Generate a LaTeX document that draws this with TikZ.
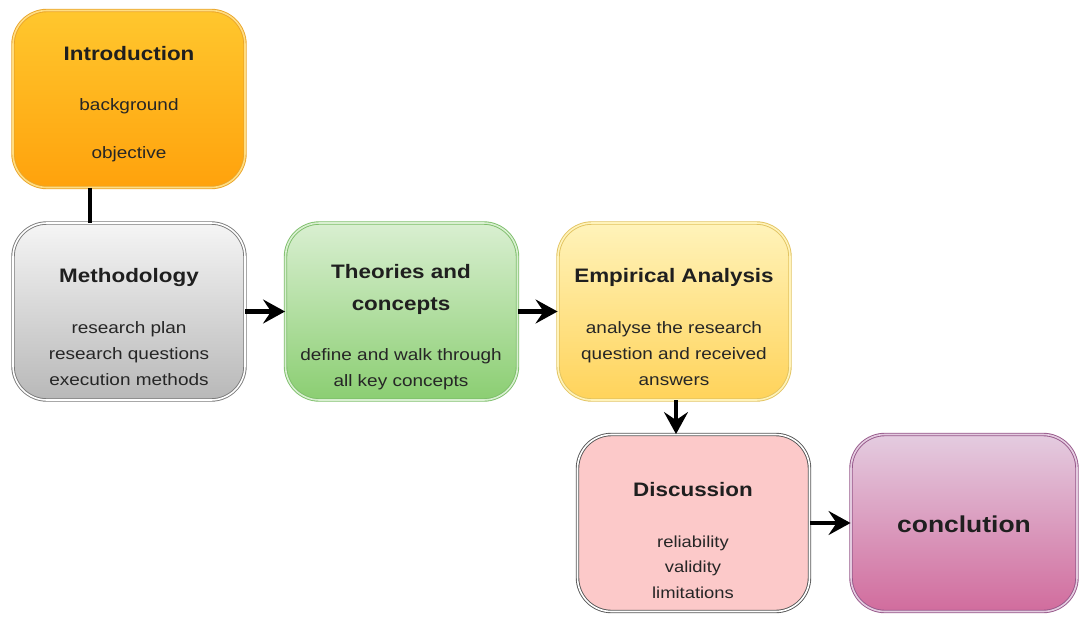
\documentclass[tikz,border=0pt]{standalone}
\usepackage{fontspec}
\setmainfont{Liberation Sans}
\newfontfamily\boxfont{Liberation Sans}[FakeStretch=1.15]
\usetikzlibrary{arrows.meta}
\definecolor{introTop}{HTML}{FFC72E}
\definecolor{introBot}{HTML}{FFA20C}
\definecolor{introLine}{HTML}{EAA52A}
\definecolor{methTop}{HTML}{F5F5F5}
\definecolor{methBot}{HTML}{B8B8B8}
\definecolor{methLine}{HTML}{7A7A7A}
\definecolor{theoTop}{HTML}{D9EFD1}
\definecolor{theoBot}{HTML}{8BCE72}
\definecolor{theoLine}{HTML}{7DBE6A}
\definecolor{empTop}{HTML}{FFF3BA}
\definecolor{empBot}{HTML}{FFD35A}
\definecolor{empLine}{HTML}{E2C360}
\definecolor{discFill}{HTML}{FCC9C9}
\definecolor{discLine}{HTML}{555555}
\definecolor{concTop}{HTML}{E4CCE0}
\definecolor{concBot}{HTML}{D16C9D}
\definecolor{concLine}{HTML}{96588A}
\begin{document}
\begin{tikzpicture}[x=1pt,y=-1pt,
  box/.style={rectangle, rounded corners=34pt, minimum width=232pt, minimum height=177pt,
    inner sep=0pt, line width=0.9pt, double distance=1.6pt},
  ttl/.style={font=\boxfont\fontsize{19.5}{22}\selectfont\bfseries, text=black!88, align=center, inner sep=0pt},
  sub/.style={font=\boxfont\fontsize{16.5}{26}\selectfont, text=black!85, align=center, inner sep=0pt},
  conn/.style={line width=4.5pt, black},
  arr/.style={conn, -{Stealth[length=22pt,width=24pt,inset=8pt]}}
]
\useasboundingbox (0,0) rectangle (1079,616);

% boxes
\node[box, top color=introTop, bottom color=introBot, draw=introLine, double=introTop!60!white] (intro) at (129,99) {};
\node[box, top color=methTop, bottom color=methBot, draw=methLine, double=white] (meth) at (129,311.5) {};
\node[box, top color=theoTop, bottom color=theoBot, draw=theoLine, double=theoTop] (theo) at (401.5,311.5) {};
\node[box, top color=empTop, bottom color=empBot, draw=empLine, double=empTop] (emp) at (674,311.5) {};
\node[box, fill=discFill, draw=discLine, double=white] (disc) at (693.5,523) {};
\node[box, minimum width=226pt, top color=concTop, bottom color=concBot, draw=concLine, double=concTop] (conc) at (964,523) {};

% texts
\node[ttl] (introT) at (129,54) {Introduction};
\node[sub] (introA) at (129,106) {background};
\node[sub] (introB) at (129,154) {objective};

\node[ttl] (methT) at (129,277) {Methodology};
\node[sub] (methS) at (129,354) {research plan\\research questions\\execution methods};

\node[ttl, font=\boxfont\fontsize{19.5}{32}\selectfont\bfseries] (theoT) at (401,289) {Theories and\\concepts};
\node[sub] (theoS) at (401,369) {define and walk through\\all key concepts};

\node[ttl] (empT) at (674,277) {Empirical Analysis};
\node[sub] (empS) at (674,354) {analyse the research\\question and received\\answers};

\node[ttl] (discT) at (693,490) {Discussion};
\node[sub, font=\boxfont\fontsize{16}{25.5}\selectfont] (discS) at (693,567) {reliability\\validity\\limitations};

\node[ttl, font=\boxfont\fontsize{23}{26}\selectfont\bfseries] (concT) at (964,524) {conclution};

% connectors
\draw[conn] (intro.south -| 90,0) -- (meth.north -| 90,0);
\draw[arr] (meth.east) -- (theo.west);
\draw[arr] (theo.east) -- (emp.west);
\draw[arr] (emp.south -| 676,0) -- (disc.north -| 676,0);
\draw[arr] (disc.east) -- (conc.west);
\end{tikzpicture}
\end{document}
